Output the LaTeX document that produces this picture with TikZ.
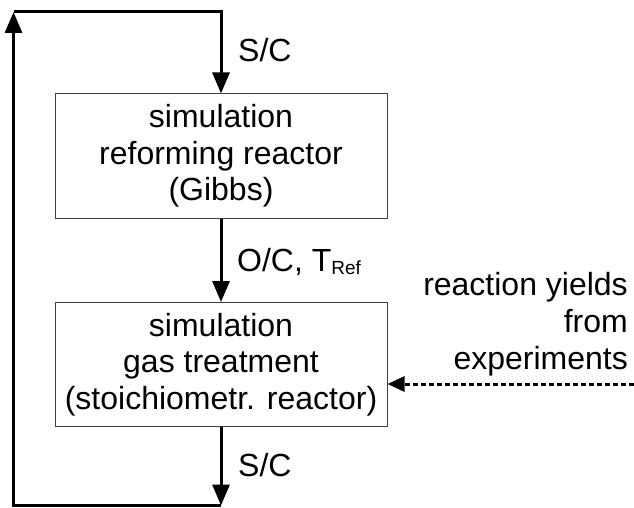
\documentclass[tikz,border=0pt]{standalone}
\usepackage{fontspec}
\setmainfont{Liberation Sans}
\usetikzlibrary{arrows.meta}
\tikzset{
  box/.style={draw=black!75, line width=1pt, minimum width=332pt, minimum height=124pt, inner sep=0pt, align=center, font=\fontsize{32}{36.5}\selectfont},
  flow/.style={line width=3pt, -{Triangle[length=21pt,width=17pt]}},
  dasharrow/.style={line width=3pt, dash pattern=on 5pt off 3pt, -{Triangle[length=17pt,width=15pt]}},
  lbl/.style={inner sep=0pt, font=\fontsize{32}{37}\selectfont}
}
\begin{document}
\begin{tikzpicture}[x=1pt,y=-1pt]
\useasboundingbox (0,0) rectangle (634,508);
\node[box] (b1) at (221,156) {simulation\\reforming reactor\\(Gibbs)};
\node[box] (b2) at (221,364.5) {simulation\\gas treatment\\(stoichiometr. reactor)};
\coordinate (tl) at (13.5,12);
\coordinate (tr) at (221,12);
\coordinate (br) at (221,505.5);
\coordinate (src) at (634,384);
\draw[flow] (br) -| (tl);
\draw[flow] (tl) -- (tr) -- (b1.north);
\draw[flow] (b1.south) -- (b2.north);
\draw[flow] (b2.south) -- (br);
\draw[dasharrow] (src) -- (b2.east |- src);
\node[lbl, anchor=base west] (sc1) at (238,62) {S/C};
\node[lbl, anchor=base west] (oc) at (237,271) {O/C, T\raisebox{-3.5pt}{\fontsize{19}{19}\selectfont Ref}};
\node[lbl, anchor=base west] (sc2) at (238,476) {S/C};
\node[lbl, anchor=north east, align=right] (ry) at (628,272) {reaction yields\\from\\experiments};
\end{tikzpicture}
\end{document}
